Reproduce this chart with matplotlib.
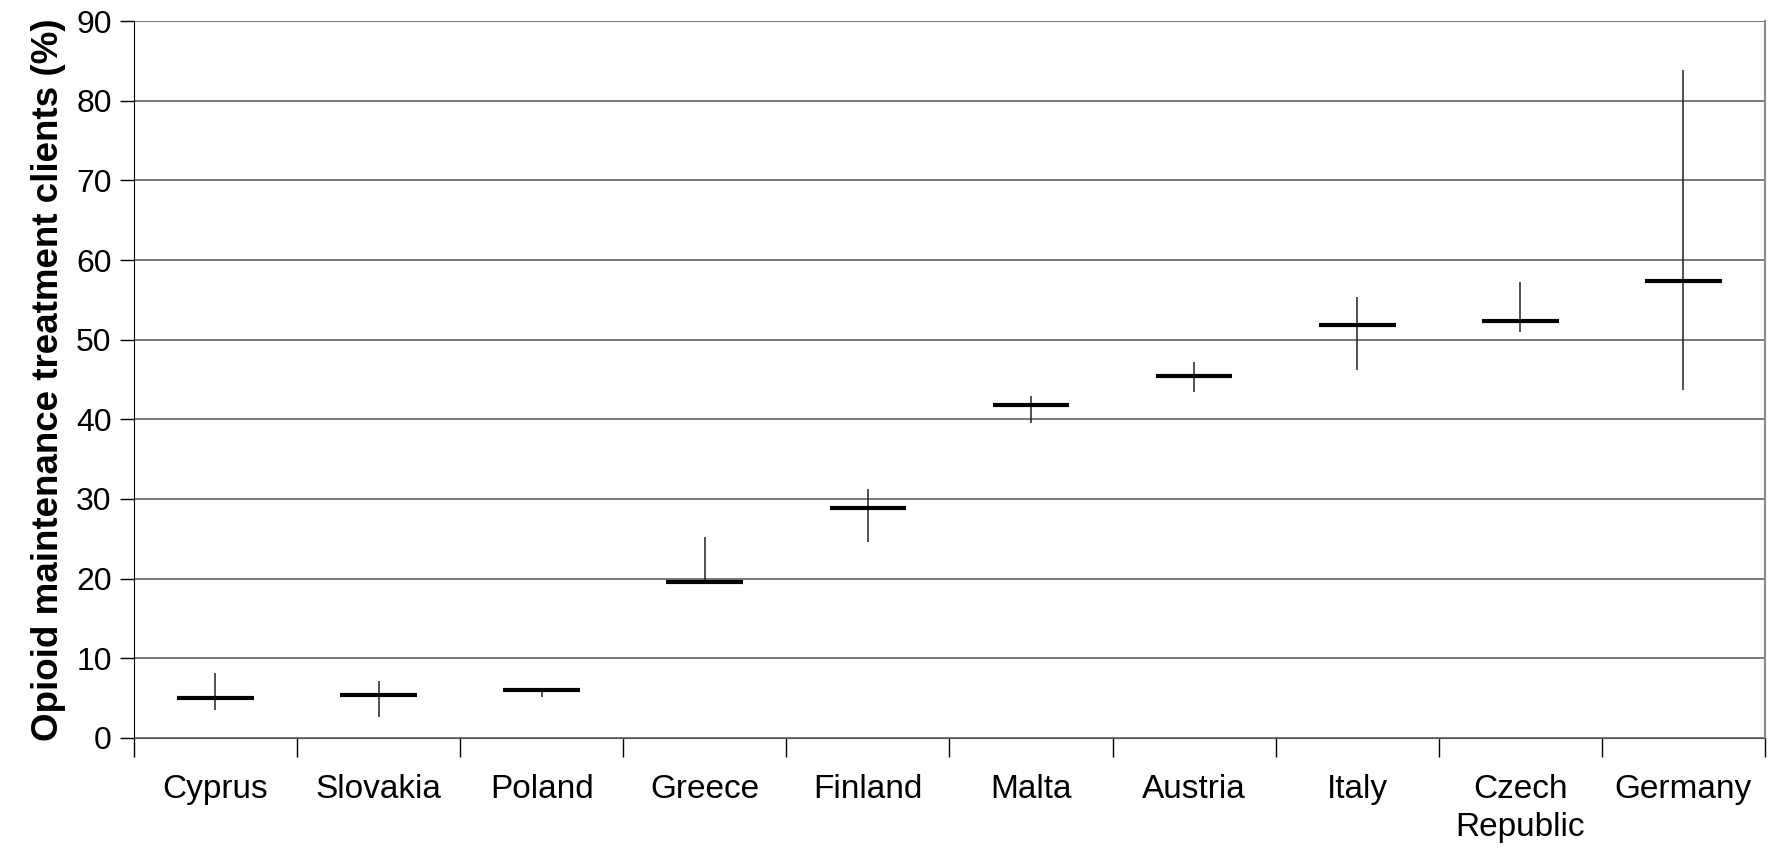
import matplotlib
matplotlib.use("Agg")
import matplotlib.pyplot as plt
import numpy as np

plt.rcParams['font.family'] = ['Liberation Sans', 'DejaVu Sans']

countries = ["Cyprus", "Slovakia", "Poland", "Greece", "Finland",
             "Malta", "Austria", "Italy", "Czech\nRepublic", "Germany"]
central = [5.0, 5.4, 6.0, 19.6, 28.9, 41.8, 45.4, 51.8, 52.4, 57.4]
low = [3.5, 2.6, 5.1, 19.6, 24.6, 39.5, 43.4, 46.2, 51.0, 43.7]
high = [8.1, 7.1, 6.0, 25.2, 31.2, 42.9, 47.2, 55.4, 57.3, 83.8]

fig = plt.figure(figsize=(17.69, 8.51), dpi=100)
ax = fig.add_axes([0.0757, 0.1328, 0.922, 0.8425])

x = np.arange(len(countries)) + 0.5
half = 0.235

# range lines (thin) and central estimate (thick)
ax.vlines(x, low, high, color='#222222', lw=1.1, zorder=3)
ax.hlines(central, x - half, x + half, color='black', lw=3.0, zorder=4)

ax.set_xlim(0, len(countries))
ax.set_ylim(0, 90)
ax.set_yticks(np.arange(0, 91, 10))
ax.yaxis.grid(True, color='#6e6e6e', lw=1.3)
ax.set_axisbelow(True)

ax.set_xticks(np.arange(0, len(countries) + 1))
ax.set_xticklabels([])
ax.set_xticks(x, minor=True)
ax.set_xticklabels(countries, minor=True, fontsize=24, linespacing=1.3)
ax.tick_params(axis='x', which='major', length=14, width=1, direction='out')
ax.tick_params(axis='x', which='minor', length=0, pad=26)
ax.tick_params(axis='y', which='major', length=10, width=1, labelsize=23, pad=6)

ax.set_ylabel("Opioid maintenance treatment clients (%)", fontsize=26.5,
              fontweight='bold', labelpad=7)

ax.spines['top'].set_visible(False)
ax.spines['right'].set_color('#8a8a8a')
ax.spines['right'].set_linewidth(1.5)
ax.spines['left'].set_color('black')
ax.spines['bottom'].set_color('#555555')

fig.savefig("out.png", dpi=100)
